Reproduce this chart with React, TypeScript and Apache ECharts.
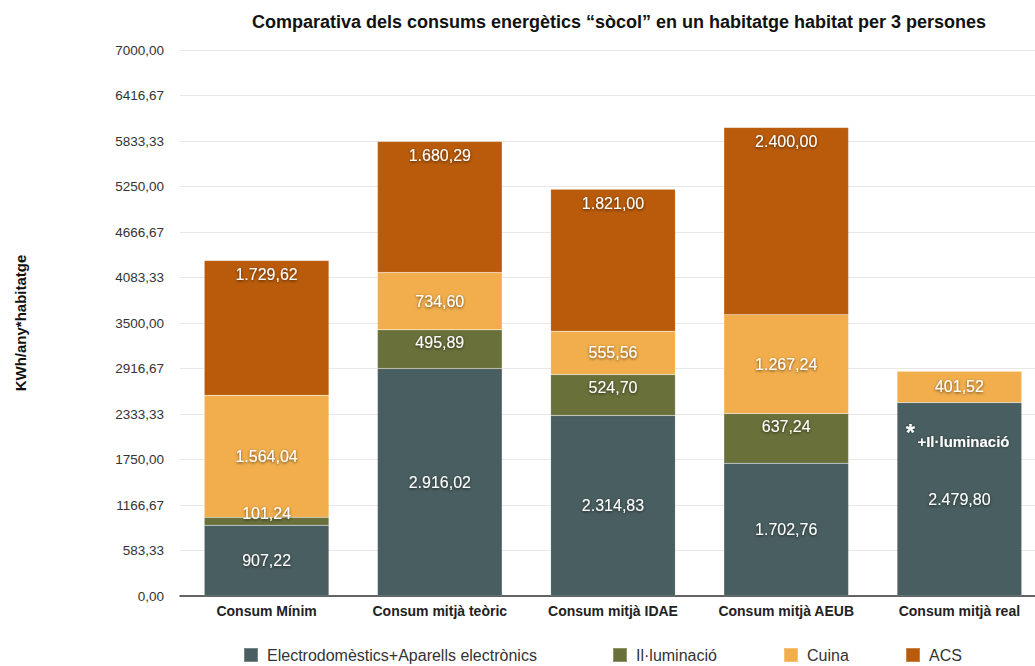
import React, { useEffect, useRef } from "react";
import * as echarts from "echarts";

const categories = [
  "Consum Mínim",
  "Consum mitjà teòric",
  "Consum mitjà IDAE",
  "Consum mitjà AEUB",
  "Consum mitjà real",
];
const seriesNames = ["Electrodomèstics+Aparells electrònics", "Il·luminació", "Cuina", "ACS"];
const electro = [907.22, 2916.02, 2314.83, 1702.76, 2479.8];
const illuminacio = [101.24, 495.89, 524.7, 637.24, null];
const cuina = [1564.04, 734.6, 555.56, 1267.24, 401.52];
const acs = [1729.62, 1680.29, 1821.0, 2400.0, null];
const yMax = 7000;
const yStep = 7000 / 12;
const noteCategoryIndex = 4;
const noteStarValue = 2170;
const noteTextValue = 1987;
const colors = ["#495e60", "#6a703a", "#f2ae4c", "#b95b0a"];

const FONT = "'Liberation Sans', Arial, Helvetica, sans-serif";

function fmt(v: number): string {
  const [int, dec] = v.toFixed(2).split(".");
  const withSep = int.replace(/\B(?=(\d{3})+(?!\d))/g, ".");
  return withSep + "," + dec;
}

const labelBase = {
  show: true,
  color: "#ffffff",
  fontSize: 16,
  fontFamily: FONT,
  textShadowColor: "rgba(0,0,0,0.65)",
  textShadowBlur: 3,
  textShadowOffsetX: 0,
  textShadowOffsetY: 1,
  formatter: (p: any) => fmt(p.value),
};

export default function App() {
  const ref = useRef<HTMLDivElement>(null);
  useEffect(() => {
    if (!ref.current) return;
    document.documentElement.style.overflow = "hidden";
    document.body.style.overflow = "hidden";
    const chart = echarts.init(ref.current, undefined, { renderer: "svg" });
    const legendLefts = [243, 612, 783, 905];
    const option: any = {
      animation: false,
      backgroundColor: "#ffffff",
      color: colors,
      title: {
        text: "Comparativa dels consums energètics “sòcol” en un habitatge habitat per 3 persones",
        left: 614,
        top: 8,
        textAlign: "center",
        textStyle: { fontFamily: FONT, fontSize: 18, fontWeight: "bold", color: "#111" },
      },
      legend: seriesNames.map((n, i) => ({
        data: [n],
        left: legendLefts[i],
        top: 647,
        padding: 0,
        itemWidth: 14,
        itemHeight: 14,
        icon: "rect",
        selectedMode: false,
        textStyle: { fontFamily: FONT, fontSize: 16, color: "#333", padding: [0, 0, 0, 4] },
      })),
      grid: { left: 180, right: 0, top: 50, bottom: 70, containLabel: false },
      xAxis: {
        type: "category",
        data: categories,
        axisLine: { lineStyle: { color: "#333", width: 1.5 } },
        axisTick: { show: false },
        axisLabel: {
          interval: 0,
          fontFamily: FONT,
          fontSize: 14,
          fontWeight: "bold",
          color: "#222",
          margin: 8,
        },
      },
      yAxis: {
        type: "value",
        min: 0,
        max: yMax,
        interval: yStep,
        name: "KWh/any*habitatge",
        nameLocation: "middle",
        nameRotate: 90,
        nameGap: 152,
        nameTextStyle: { fontFamily: FONT, fontSize: 15, fontWeight: "bold", color: "#111" },
        axisLine: { show: false },
        axisTick: { show: false },
        splitLine: { lineStyle: { color: "#e8e8e8", width: 1 } },
        axisLabel: {
          fontFamily: FONT,
          fontSize: 13.5,
          color: "#333",
          margin: 16,
          formatter: (v: number) => v.toFixed(2).replace(".", ","),
        },
      },
      series: [
        {
          name: seriesNames[0],
          type: "bar",
          stack: "total",
          barCategoryGap: "28%",
          data: electro,
          itemStyle: { borderColor: "rgba(255,255,255,0.25)", borderWidth: 0.5 },
          label: { ...labelBase, position: "inside" },
        },
        {
          name: seriesNames[1],
          type: "bar",
          stack: "total",
          data: illuminacio.map((v, i) =>
            i === 0
              ? { value: v, label: { ...labelBase, position: "top", distance: -4 } }
              : v
          ),
          itemStyle: { borderColor: "rgba(255,255,255,0.25)", borderWidth: 0.5 },
          label: { ...labelBase, position: "insideTop", distance: 5 },
        },
        {
          name: seriesNames[2],
          type: "bar",
          stack: "total",
          data: cuina,
          itemStyle: { borderColor: "rgba(255,255,255,0.25)", borderWidth: 0.5 },
          label: { ...labelBase, position: "inside" },
        },
        {
          name: seriesNames[3],
          type: "bar",
          stack: "total",
          data: acs,
          itemStyle: { borderColor: "rgba(255,255,255,0.25)", borderWidth: 0.5 },
          label: { ...labelBase, position: "insideTop", distance: 6 },
        },
      ],
    };
    chart.setOption(option);
    let starPt = chart.convertToPixel({ xAxisIndex: 0, yAxisIndex: 0 } as any, [noteCategoryIndex, noteStarValue]) as any;
    let textPt = chart.convertToPixel({ xAxisIndex: 0, yAxisIndex: 0 } as any, [noteCategoryIndex, noteTextValue]) as any;
    if (!Array.isArray(starPt) || isNaN(starPt[0])) {
      const sx = chart.convertToPixel({ xAxisIndex: 0 } as any, noteCategoryIndex) as any;
      const sy = chart.convertToPixel({ yAxisIndex: 0 } as any, noteStarValue) as any;
      const ty = chart.convertToPixel({ yAxisIndex: 0 } as any, noteTextValue) as any;
      starPt = [sx, sy];
      textPt = [sx, ty];
    }
    chart.setOption({
      graphic: {
        elements: [
          {
            type: "text",
            x: starPt[0] - 49,
            y: starPt[1] + 6,
            silent: true,
            z: 100,
            style: {
              text: "*",
              fill: "#ffffff",
              fontFamily: FONT,
              fontSize: 24,
              fontWeight: "bold",
              align: "center",
              verticalAlign: "middle",
              textShadowColor: "rgba(0,0,0,0.5)",
              textShadowBlur: 2,
            },
          },
          {
            type: "text",
            x: textPt[0] - 42,
            y: textPt[1],
            silent: true,
            z: 100,
            style: {
              text: "+Il·luminació",
              fill: "#ffffff",
              fontFamily: FONT,
              fontSize: 15,
              fontWeight: "bold",
              align: "left",
              verticalAlign: "middle",
              textShadowColor: "rgba(0,0,0,0.5)",
              textShadowBlur: 2,
            },
          },
        ],
      },
    });
    return () => chart.dispose();
  }, []);
  return (
    <div
      ref={ref}
      style={{ position: "absolute", left: 0, top: 0, width: 1046, height: 666 }}
    />
  );
}
